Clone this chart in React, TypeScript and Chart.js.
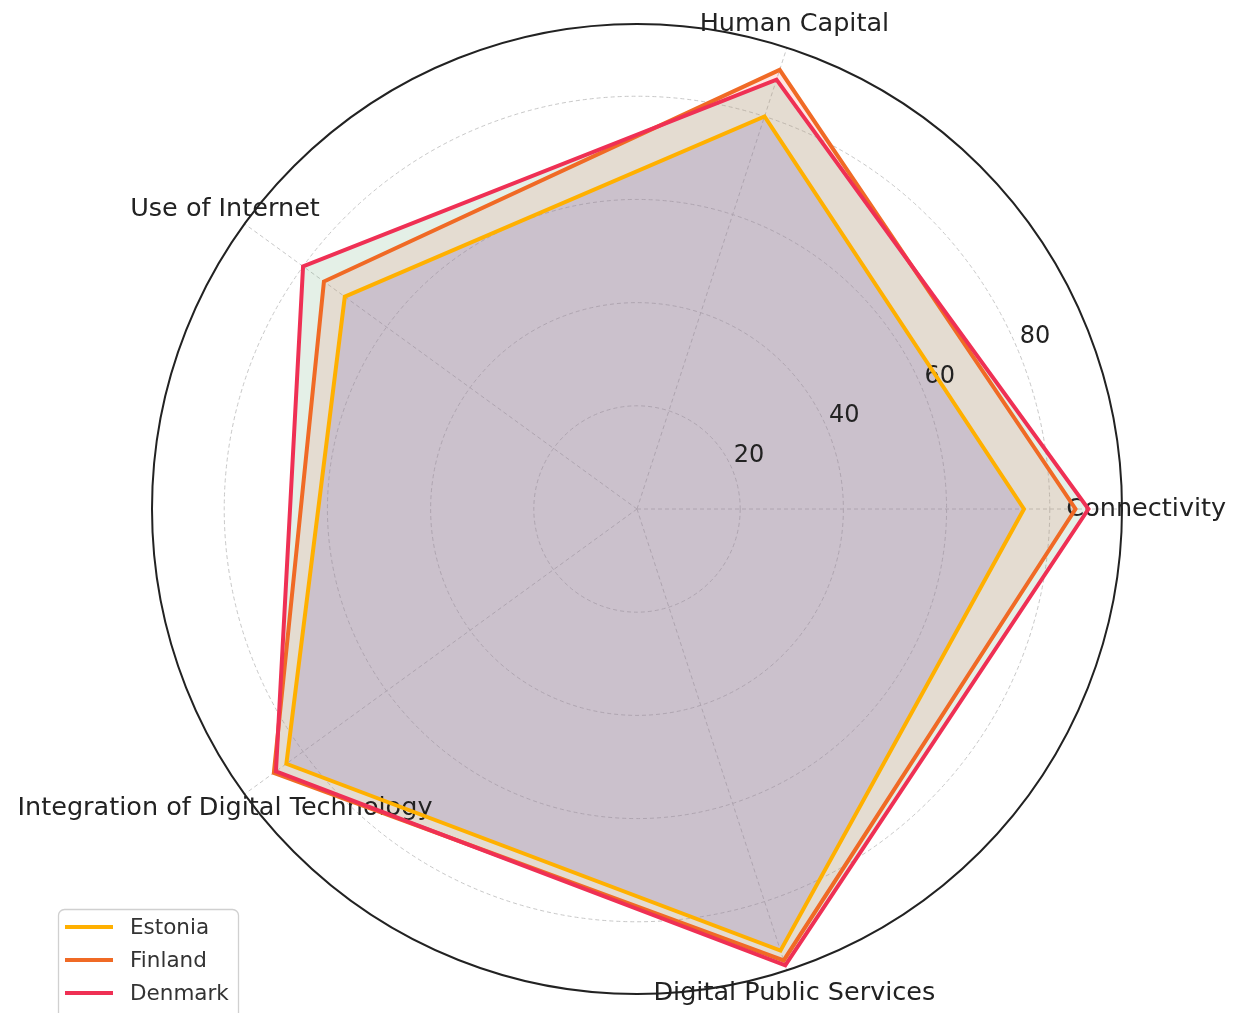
import React, { useEffect, useRef } from "react";
import { Chart, registerables } from "chart.js";

Chart.register(...registerables);

// Categories in clockwise order starting from the right (3 o'clock)
const categories = [
  "Connectivity",
  "Digital Public Services",
  "Integration of Digital Technology",
  "Use of Internet",
  "Human Capital",
];
const estonia = [75, 90, 84, 70, 80];
const finland = [85, 92, 87, 75, 89.5];
const denmark = [87.5, 93, 86.5, 80, 87.5];
const tickValues = [20, 40, 60, 80];
const seriesNames = ["Estonia", "Finland", "Denmark"];
const lineColors = ["#FFB000", "#F06A25", "#EF3054"];
const fillColors = [
  "rgba(67,52,220,0.2)",
  "rgba(255,130,120,0.2)",
  "rgba(120,180,135,0.2)",
];
const R_MAX = 94;

const FONT = '"DejaVu Sans", "Noto Sans", sans-serif';

const decorPlugin = {
  id: "decor",
  beforeDraw(chart: any) {
    const ctx = chart.ctx;
    ctx.save();
    ctx.fillStyle = "#ffffff";
    ctx.fillRect(0, 0, chart.width, chart.height);
    ctx.restore();
  },
  beforeDatasetsDraw(chart: any) {
    const ctx = chart.ctx;
    const s = chart.scales.r;
    ctx.save();
    // category labels
    ctx.fillStyle = "#222222";
    ctx.textAlign = "center";
    ctx.textBaseline = "middle";
    ctx.font = `25.5px ${FONT}`;
    const labels = chart.data.labels as string[];
    labels.forEach((l, i) => {
      const p = s.getPointPosition(i, s.drawingArea * 1.05);
      ctx.fillText(l, p.x, p.y);
    });
    // radial tick labels at 22.5 degrees
    ctx.font = `24px ${FONT}`;
    const a = (22.5 * Math.PI) / 180;
    const k = s.drawingArea / 485;
    tickValues.forEach((v) => {
      const r = s.getDistanceFromCenterForValue(v);
      ctx.fillText(
        String(v),
        s.xCenter + r * Math.cos(a) + 16.7 * k,
        s.yCenter - r * Math.sin(a) - 14 * k
      );
    });
    // outer circle
    ctx.beginPath();
    ctx.arc(s.xCenter, s.yCenter, s.drawingArea, 0, Math.PI * 2);
    ctx.strokeStyle = "#222222";
    ctx.lineWidth = 2;
    ctx.stroke();
    ctx.restore();
  },
  afterDraw(chart: any) {
    const ctx = chart.ctx;
    ctx.save();
    ctx.beginPath();
    (ctx as any).roundRect(58.5, 909.5, 180, 130, 6);
    ctx.fillStyle = "rgba(255,255,255,0.8)";
    ctx.fill();
    ctx.strokeStyle = "#d0d0d0";
    ctx.lineWidth = 1.3;
    ctx.stroke();
    const rows = [927, 960, 993];
    ctx.font = `21.5px ${FONT}`;
    ctx.textAlign = "left";
    ctx.textBaseline = "middle";
    seriesNames.forEach((n, i) => {
      ctx.beginPath();
      ctx.moveTo(65, rows[i]);
      ctx.lineTo(113, rows[i]);
      ctx.strokeStyle = lineColors[i];
      ctx.lineWidth = 4;
      ctx.stroke();
      ctx.fillStyle = "#333333";
      ctx.fillText(n, 130, rows[i] + 1);
    });
    ctx.restore();
  },
};

export default function App() {
  const ref = useRef<HTMLCanvasElement | null>(null);
  useEffect(() => {
    if (!ref.current) return;
    const series = [estonia, finland, denmark];
    const chart = new Chart(ref.current, {
      type: "radar",
      data: {
        labels: categories,
        datasets: series.map((d, i) => ({
          label: seriesNames[i],
          data: d,
          borderColor: lineColors[i],
          backgroundColor: fillColors[i],
          borderWidth: 4,
          fill: true,
          pointRadius: 0,
          pointHoverRadius: 0,
          tension: 0,
          order: 2 - i,
        })),
      },
      options: {
        responsive: false,
        animation: false,
        layout: { padding: { left: 152, top: 24, right: 115, bottom: 19 } },
        plugins: {
          legend: { display: false },
          tooltip: { enabled: false },
          filler: { drawTime: "beforeDatasetsDraw" },
        } as any,
        scales: {
          r: {
            min: 0,
            max: R_MAX,
            startAngle: 90,
            ticks: { display: false, stepSize: 20 },
            pointLabels: { display: false },
            grid: {
              circular: true,
              color: (c: any) =>
                c.tick && c.tick.value > 90 ? "rgba(0,0,0,0)" : "#c8c8c8",
              lineWidth: 1,
            },
            border: { dash: [4, 3] },
            angleLines: {
              color: "#c8c8c8",
              lineWidth: 1,
              borderDash: [4, 3],
            },
          },
        },
      },
      plugins: [decorPlugin],
    });
    return () => chart.destroy();
  }, []);
  return (
    <div style={{ position: "absolute", left: 0, top: 0, width: 1237, height: 1013 }}>
      <canvas ref={ref} width={1237} height={1013} style={{ display: "block" }} />
    </div>
  );
}
